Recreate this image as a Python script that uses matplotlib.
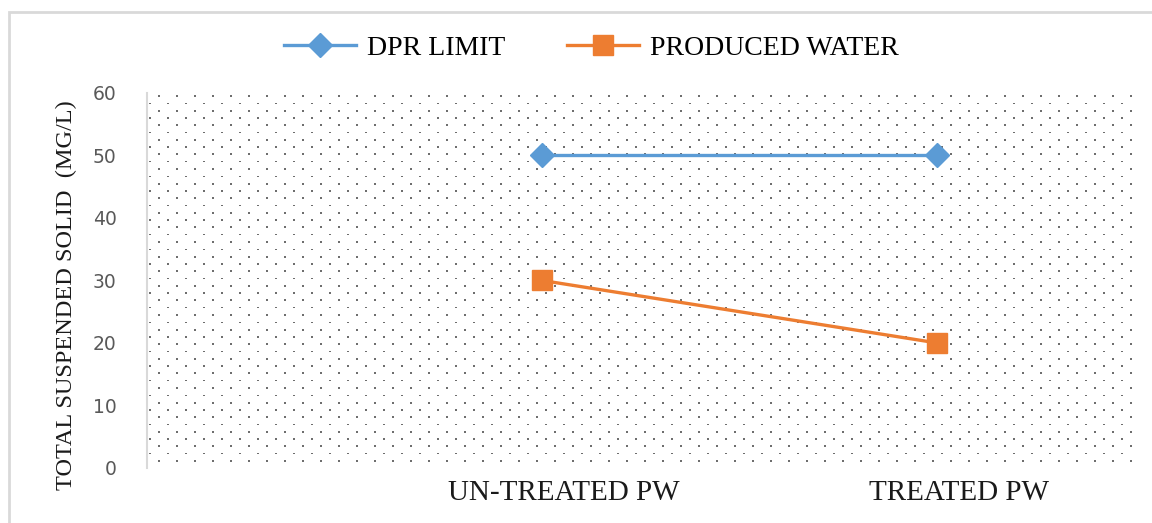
import numpy as np
import matplotlib.pyplot as plt
import matplotlib.transforms as mtransforms
from matplotlib.patches import Rectangle

# categories and measured values (mg/L)
stages = ['UN-TREATED PW', 'TREATED PW']
dpr_limit = [50, 50]
produced_water = [30, 20]

blue = '#5B9BD5'
orange = '#ED7D31'
serif = 'Liberation Serif'

fig = plt.figure(figsize=(11.52, 5.23), dpi=100)
ax = fig.add_axes([0.1276, 0.1052, 0.8576, 0.717])

# thin grey frame around the whole chart
fig.patches.append(Rectangle((0.008, -0.1), 1.1, 1.077, transform=fig.transFigure,
                             fill=False, edgecolor='#D9D9D9', linewidth=2))

# dotted pattern fill of the plot area (staggered dot grid)
w_px, h_px = 988.0, 375.0
xs, ys, ss = [], [], []
row = 0
y = 3.0
while y < h_px:
    off = 9.0 if row % 2 == 0 else 0.0
    x = 3.0 + off
    while x < w_px:
        xs.append(x / w_px)
        ys.append(1 - y / h_px)
        ss.append(2.2 if row % 2 == 0 else 1.2)
        x += 18.0
    y += 7.3
    row += 1
ax.scatter(xs, ys, s=ss, c='#6E6E6E', marker='s', linewidths=0,
           transform=ax.transAxes, zorder=0, clip_on=True)

x = np.arange(len(stages))
ax.plot(x, dpr_limit, color=blue, linewidth=2.4, marker='D', markersize=12,
        label='DPR LIMIT', zorder=3)
ax.plot(x, produced_water, color=orange, linewidth=2.4, marker='s', markersize=14,
        label='PRODUCED WATER', zorder=3)

ax.set_xlim(-1, 1.5)
ax.set_ylim(0, 60)
ax.set_yticks(range(0, 61, 10))
ax.tick_params(axis='y', length=0, pad=22, labelsize=13.5, labelcolor='#595959')
ax.tick_params(axis='x', length=0, pad=9)
ax.set_xticks(x)
ax.set_xticklabels(stages, fontfamily=serif, fontsize=21, color='#1a1a1a')
shift = mtransforms.ScaledTranslation(0.22, 0, fig.dpi_scale_trans)
for lbl in ax.get_xticklabels():
    lbl.set_transform(lbl.get_transform() + shift)

for side in ['top', 'right', 'bottom']:
    ax.spines[side].set_visible(False)
ax.spines['left'].set_color('#D9D9D9')
ax.spines['left'].set_linewidth(1.5)

ax.set_ylabel('TOTAL SUSPENDED SOLID  (MG/L)', fontfamily=serif, fontsize=17.5,
              color='#1a1a1a')
ax.yaxis.set_label_coords(-0.071, 0.46)

ax.legend(loc='center', bbox_to_anchor=(0.45, 1.12), ncol=2, frameon=False,
          prop={'family': serif, 'size': 20}, handlelength=2.6, columnspacing=2.2,
          handletextpad=0.4)

fig.savefig('out.png', dpi=100)
